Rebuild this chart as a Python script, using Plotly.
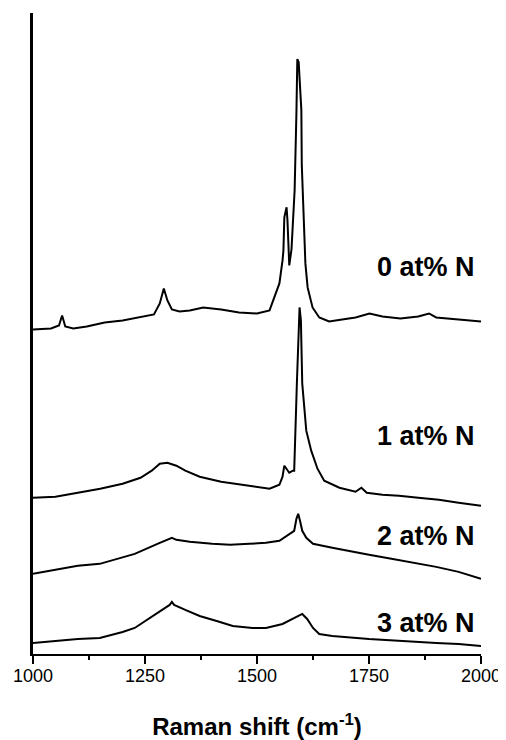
import plotly.graph_objects as go

# Raman spectra (intensity in arbitrary units, already offset for stacking)
x_0N = [1000, 1040, 1058, 1065, 1072, 1090, 1120, 1160, 1200, 1240, 1270, 1283, 1292, 1300, 1310, 1327,
        1350, 1380, 1420, 1460, 1500, 1528, 1539, 1550, 1557, 1559, 1561, 1566, 1568, 1572, 1577, 1584,
        1588, 1590, 1593, 1599, 1600, 1604, 1606, 1608, 1613, 1624, 1639, 1661, 1690, 1720, 1751, 1780,
        1820, 1860, 1884, 1900, 1950, 2000]
y_0N = [324, 325, 328, 338, 327, 325, 327, 331, 333, 336, 339, 350, 365, 353, 344, 342,
        343, 346, 344, 341, 340, 343, 356, 370, 393, 403, 436, 446, 433, 388, 404, 463,
        540, 594, 591, 543, 488, 430, 403, 390, 366, 346, 336, 332, 334, 336, 340, 337,
        335, 337, 340, 336, 334, 332]

x_1N = [1000, 1050, 1100, 1150, 1200, 1240, 1265, 1283, 1300, 1320, 1340, 1372, 1420, 1483, 1528, 1550,
        1557, 1561, 1566, 1572, 1580, 1583, 1589, 1595, 1598, 1601, 1610, 1621, 1635, 1650, 1684, 1720,
        1733, 1745, 1780, 1817, 1860, 1906, 1950, 2000]
y_1N = [156, 157, 161, 165, 170, 176, 183, 190, 191, 188, 183, 177, 172, 168, 165, 169,
        177, 188, 185, 181, 183, 183, 270, 346, 333, 270, 223, 203, 185, 173, 166, 162,
        166, 161, 159, 158, 156, 154, 151, 148]

x_2N = [1000, 1050, 1100, 1149, 1227, 1283, 1310, 1320, 1350, 1400, 1440, 1483, 1520, 1550, 1572, 1583,
        1588, 1592, 1596, 1601, 1610, 1625, 1668, 1700, 1750, 1800, 1850, 1900, 1950, 2000]
y_2N = [80, 84, 88, 90, 100, 111, 116, 114, 112, 110, 109, 110, 111, 113, 120, 123,
        135, 140, 133, 123, 116, 110, 106, 103, 99, 95, 91, 87, 82, 75]

x_3N = [1000, 1050, 1100, 1149, 1200, 1227, 1267, 1290, 1305, 1310, 1315, 1340, 1372, 1410, 1446, 1490,
        1520, 1557, 1580, 1601, 1612, 1625, 1639, 1668, 1750, 1817, 1900, 1950, 2000]
y_3N = [11, 13, 15, 16, 22, 26, 38, 45, 49, 52, 49, 44, 38, 33, 28, 26,
        26, 30, 35, 40, 35, 26, 20, 18, 15, 13, 11, 10, 8]

labels = ["0 at% N", "1 at% N", "2 at% N", "3 at% N"]
label_y = [386, 218, 118, 31]
label_x = 1991

x_ticks = [1000, 1250, 1500, 1750, 2000]
x_ticklabels = ["1000", "1250", "1500", "1750", "2000"]
x_minor = [1125, 1375, 1625, 1875]

fig = go.Figure()
for xs, ys, name in [(x_0N, y_0N, labels[0]), (x_1N, y_1N, labels[1]),
                     (x_2N, y_2N, labels[2]), (x_3N, y_3N, labels[3])]:
    fig.add_trace(go.Scatter(x=xs, y=ys, mode="lines", name=name,
                             line=dict(color="black", width=2), showlegend=False))

for t, yv in zip(labels, label_y):
    fig.add_annotation(x=label_x, y=yv, text="<b>" + t + "</b>", showarrow=False,
                       xanchor="right", yanchor="middle",
                       font=dict(family="Liberation Sans, Arial", size=27, color="black"))

# page body has an 8px default margin, so the figure is sized 8px smaller
fig.update_layout(
    width=498, height=732,
    margin=dict(l=25, r=25, t=5, b=86, autoexpand=False),
    plot_bgcolor="white", paper_bgcolor="white",
    font=dict(family="Liberation Sans, Arial", color="black"),
)
fig.update_xaxes(
    range=[1000, 2000], tickvals=x_ticks, ticktext=x_ticklabels, automargin=False,
    ticks="outside", ticklen=8, tickwidth=2, tickcolor="black", ticklabelstandoff=-4,
    minor=dict(tickvals=x_minor, ticks="outside", ticklen=4, tickwidth=2, tickcolor="black"),
    showline=True, linecolor="black", linewidth=2, showgrid=False, zeroline=False,
    tickfont=dict(size=18, family="Liberation Sans, Arial", color="black"),
    title=dict(text="<b>Raman shift (cm<sup>-1</sup>)</b>", standoff=34,
               font=dict(size=24, family="Liberation Sans, Arial", color="black")),
)
fig.update_yaxes(
    range=[0, 640], showline=True, linecolor="black", linewidth=3, automargin=False,
    showticklabels=False, ticks="", showgrid=False, zeroline=False,
)

fig.write_html("out.html")
